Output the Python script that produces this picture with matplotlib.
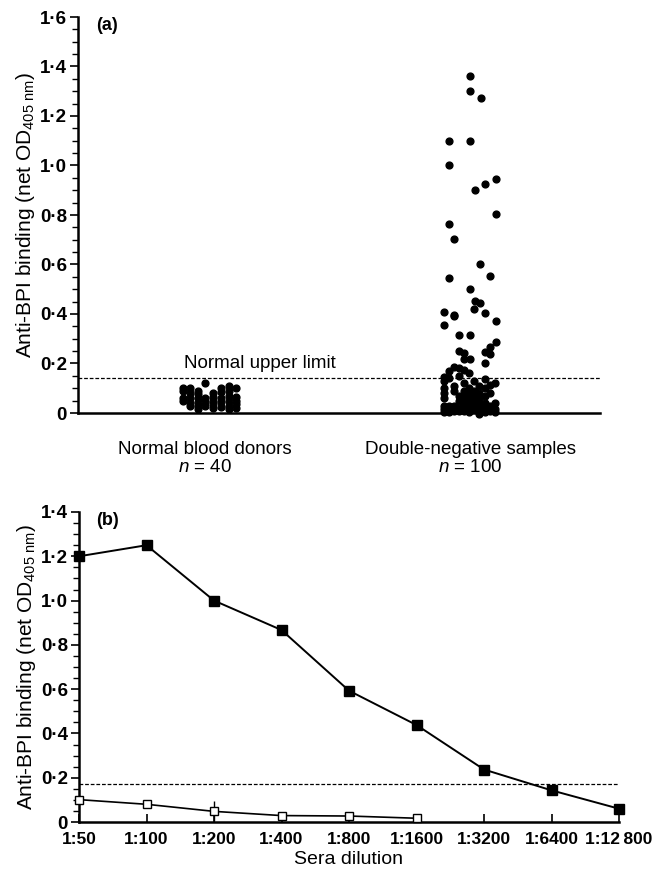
import numpy as np
import matplotlib
matplotlib.use("Agg")
import matplotlib.pyplot as plt
from matplotlib.ticker import MultipleLocator, FuncFormatter

plt.rcParams['font.family'] = ['Liberation Sans', 'DejaVu Sans']
plt.rcParams['mathtext.fontset'] = 'custom'
plt.rcParams['mathtext.rm'] = 'Liberation Sans'
plt.rcParams['mathtext.it'] = 'Liberation Sans:italic'
plt.rcParams['mathtext.bf'] = 'Liberation Sans:bold'

# =======================================================
# DATA

# panel (a): dot plot, x jitter in pixels relative to group centre
groups = ["Normal blood donors\n$n$ = 40", "Double-negative samples\n$n$ = 100"]

donor_dx = ([-22] * 4 + [-15] * 5 + [-7] * 6 + [0] * 4 + [8] * 5 + [16] * 5 + [24] * 6 + [31] * 5)
donor_val = [0.10, 0.09, 0.06, 0.05,
             0.10, 0.08, 0.06, 0.04, 0.03,
             0.09, 0.075, 0.06, 0.045, 0.03, 0.015,
             0.12, 0.06, 0.045, 0.03,
             0.08, 0.065, 0.05, 0.035, 0.02,
             0.10, 0.085, 0.06, 0.045, 0.025,
             0.11, 0.09, 0.07, 0.05, 0.03, 0.015,
             0.10, 0.065, 0.05, 0.035, 0.02]

dn_high_dx = [0, 0, 11, -21, 0, -21, 26, 15, 5, 26, -21, -16, 10, 20, -21, 0,
              5, 10, 4, -16, 15, -26, -16, 26, -26, -11, 0, 26, 20, -11, -6,
              15, 20, -6, 0, 15]
dn_high_val = [1.362, 1.302, 1.274, 1.100, 1.100, 1.001, 0.945, 0.925, 0.902,
               0.803, 0.762, 0.703, 0.602, 0.552, 0.545, 0.502, 0.452, 0.443,
               0.419, 0.396, 0.403, 0.407, 0.391, 0.372, 0.356, 0.314, 0.314,
               0.286, 0.268, 0.252, 0.241, 0.248, 0.238, 0.218, 0.218, 0.203]

dn_low_dx = ([-26] * 8 + [-21] * 5 + [-16] * 5 + [-11] * 6 + [-6] * 7 + [-1] * 7
             + [4] * 6 + [9] * 6 + [15] * 6 + [20] * 4 + [25] * 4)
dn_low_val = [0.147, 0.13, 0.10, 0.08, 0.06, 0.03, 0.015, 0.005,
              0.171, 0.14, 0.03, 0.015, 0.005,
              0.185, 0.11, 0.09, 0.03, 0.01,
              0.181, 0.15, 0.07, 0.05, 0.02, 0.01,
              0.174, 0.12, 0.09, 0.07, 0.05, 0.03, 0.01,
              0.163, 0.10, 0.08, 0.06, 0.04, 0.02, 0.005,
              0.13, 0.09, 0.07, 0.05, 0.03, 0.015,
              0.11, 0.08, 0.06, 0.04, 0.02, -0.003,
              0.136, 0.10, 0.07, 0.04, 0.02, 0.005,
              0.113, 0.08, 0.03, 0.01,
              0.120, 0.04, 0.015, 0.005]

upper_limit_a = 0.14

# panel (b): titration
dilutions = ["1:50", "1:100", "1:200", "1:400", "1:800", "1:1600", "1:3200", "1:6400", "1:12\u2009800"]
positive = [1.20, 1.25, 1.00, 0.867, 0.593, 0.438, 0.237, 0.143, 0.06]
negative = [0.101, 0.080, 0.048, 0.029, 0.027, 0.017]
negative_err = [0.0, 0.0, 0.045, 0.015, 0.015, 0.01]
upper_limit_b = 0.17

# =======================================================
# FIGURE

fig = plt.figure(figsize=(6.61, 8.71), dpi=100)

dot_fmt = FuncFormatter(lambda v, p: "0" if abs(v) < 1e-9 else f"{v:.1f}".replace(".", "\u00b7"))
ylab = "Anti-BPI binding (net OD$_{\\rm 405\\ nm}$)"


def style_axes(ax):
    for s in ["top", "right"]:
        ax.spines[s].set_visible(False)
    ax.spines["left"].set_linewidth(1.8)
    ax.spines["bottom"].set_linewidth(1.8)
    ax.yaxis.set_major_formatter(dot_fmt)
    ax.yaxis.set_minor_locator(MultipleLocator(0.05))
    ax.tick_params(axis="y", which="major", direction="out", length=6, width=1.2,
                   labelsize=13.5, pad=2)
    ax.tick_params(axis="y", which="minor", direction="out", length=4, width=1.0)
    for t in ax.get_yticklabels():
        t.set_fontweight("bold")


# ---------------- (a)
px_per_unit = 265.0
ax1 = fig.add_axes([78 / 661, 1 - 413 / 871, 522 / 661, 396 / 871])
ax1.set_xlim(0.521, 2.49)
ax1.set_ylim(0, 1.6)
ax1.yaxis.set_major_locator(MultipleLocator(0.2))
style_axes(ax1)

x_donor = 1 + np.array(donor_dx) / px_per_unit
x_dn = 2 + np.array(dn_high_dx + dn_low_dx) / px_per_unit
ax1.scatter(x_donor, donor_val, s=24, color="black", clip_on=False, zorder=3)
ax1.scatter(x_dn, dn_high_val + dn_low_val, s=24, color="black", clip_on=False, zorder=3)

ax1.axhline(upper_limit_a, color="black", lw=0.9, ls=(0, (3, 1.5)))
ax1.text(0.92, 0.18, "Normal upper limit", fontsize=13.5)
ax1.text(0.59, 1.6, "(a)", fontsize=13, va="top", fontweight="bold")

ax1.set_xticks([1, 2])
ax1.set_xticklabels(groups, fontsize=13.5, linespacing=1.08)
ax1.tick_params(axis="x", length=0, pad=20)
ax1.set_ylabel(ylab, fontsize=15, labelpad=2)

# ---------------- (b)
ax2 = fig.add_axes([79 / 661, 1 - 822 / 871, 540 / 661, 310 / 871])
xb = np.arange(len(dilutions))
ax2.set_xlim(0, len(dilutions) - 1)
ax2.set_ylim(0, 1.4)
ax2.yaxis.set_major_locator(MultipleLocator(0.2))
style_axes(ax2)

ax2.axhline(upper_limit_b, color="black", lw=0.9, ls=(0, (3, 1.5)))
ax2.plot(xb, positive, color="black", lw=1.4, marker="s", ms=7,
         mfc="black", mec="black", clip_on=False, zorder=3)
ax2.errorbar(xb[:len(negative)], negative, yerr=negative_err, color="black", lw=1.2,
             marker="s", ms=6, mfc="white", mec="black", mew=1.0,
             elinewidth=1.0, capsize=0, clip_on=False, zorder=3)

ax2.text(0.25, 1.4, "(b)", fontsize=13, va="top", fontweight="bold")
ax2.set_xticks(xb)
ax2.set_xticklabels(dilutions, fontsize=12.5, fontweight="bold")
ax2.tick_params(axis="x", direction="in", length=6, width=1.2, pad=7)
ax2.set_xlabel("Sera dilution", fontsize=14, labelpad=3)
ax2.set_ylabel(ylab, fontsize=15, labelpad=2)

plt.savefig("out.png", dpi=100)
plt.close()
